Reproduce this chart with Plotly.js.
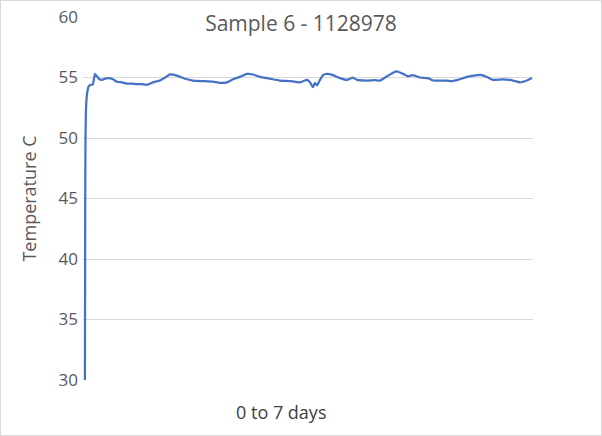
<!DOCTYPE html>
<html><head><meta charset="utf-8">
<script src="https://cdn.plot.ly/plotly-3.0.1.min.js"></script>
<style>body{margin:0;background:#fff}#c{width:602px;height:436px;position:absolute;left:0;top:0}#b{position:absolute;left:0;top:0;width:600px;height:434px;border:1px solid #d9d9d9;pointer-events:none}</style>
</head><body><div id="c"></div><div id="b"></div>
<script>
const days = [0,0.005,0.009,0.016,0.034,0.0625,0.094,0.125,0.156,0.1875,0.227,0.266,0.344,0.422,0.5,0.578,0.656,0.734,0.8125,0.89,0.969,1.0625,1.172,1.281,1.328,1.4375,1.5625,1.6875,1.844,2.0,2.109,2.219,2.3125,2.422,2.531,2.625,2.734,2.89,3.047,3.203,3.359,3.469,3.516,3.5625,3.594,3.625,3.672,3.719,3.781,3.875,3.984,4.094,4.1875,4.25,4.406,4.531,4.609,4.719,4.8125,4.875,4.969,5.047,5.125,5.234,5.359,5.4375,5.594,5.734,5.828,5.969,6.125,6.203,6.297,6.375,6.531,6.6875,6.797,6.906,6.984];
const temps = [30,45,50,52.3,53.7,54.3,54.4,54.45,55.3,55.1,54.85,54.8,54.95,54.9,54.65,54.6,54.5,54.5,54.45,54.45,54.4,54.6,54.75,55.1,55.25,55.15,54.9,54.75,54.7,54.65,54.55,54.6,54.85,55.05,55.3,55.25,55.05,54.9,54.75,54.7,54.6,54.8,54.6,54.2,54.55,54.35,54.8,55.2,55.3,55.2,54.95,54.8,55.0,54.8,54.75,54.78,54.75,55.1,55.4,55.5,55.3,55.1,55.2,55.0,54.95,54.75,54.75,54.7,54.8,55.05,55.2,55.2,55.0,54.8,54.85,54.75,54.6,54.75,54.95];
const yTicks = [30,35,40,45,50,55,60];
const chartTitle = "Sample 6 - 1128978";
const xTitle = "0 to 7 days";
const yTitle = "Temperature C";

const fam = "'Open Sans', sans-serif";
const grey = "#595959";
Plotly.newPlot("c", [{
  x: days, y: temps, type: "scatter", mode: "lines",
  line: {color: "#4472C4", width: 2.25, shape: "spline", smoothing: 0.3},
  hoverinfo: "skip"
}], {
  width: 602, height: 436,
  margin: {l: 83, r: 69, t: 17, b: 56},
  paper_bgcolor: "#fff", plot_bgcolor: "#fff",
  showlegend: false,
  title: {text: chartTitle, font: {family: fam, size: 21, color: grey},
          x: 301/602, xref: "container", xanchor: "center", y: 1 - 24/436, yanchor: "middle"},
  xaxis: {range: [-0.03, 7.0], showgrid: false, zeroline: false, showline: false,
          showticklabels: false, ticks: ""},
  yaxis: {range: [30, 60], tickvals: yTicks, showgrid: true, gridcolor: "#d9d9d9", gridwidth: 1,
          zeroline: false, showline: false, ticks: "", ticklabelstandoff: 4,
          tickfont: {family: fam, size: 17, color: grey},
          title: {text: yTitle, font: {family: fam, size: 18, color: grey}, standoff: 17}},
  annotations: [{text: xTitle, xref: "paper", yref: "paper", x: (281-83)/450, y: -(412-380)/363,
                 xanchor: "center", yanchor: "middle", showarrow: false,
                 font: {family: fam, size: 18, color: "#404040"}}]
}, {staticPlot: true});
</script></body></html>
